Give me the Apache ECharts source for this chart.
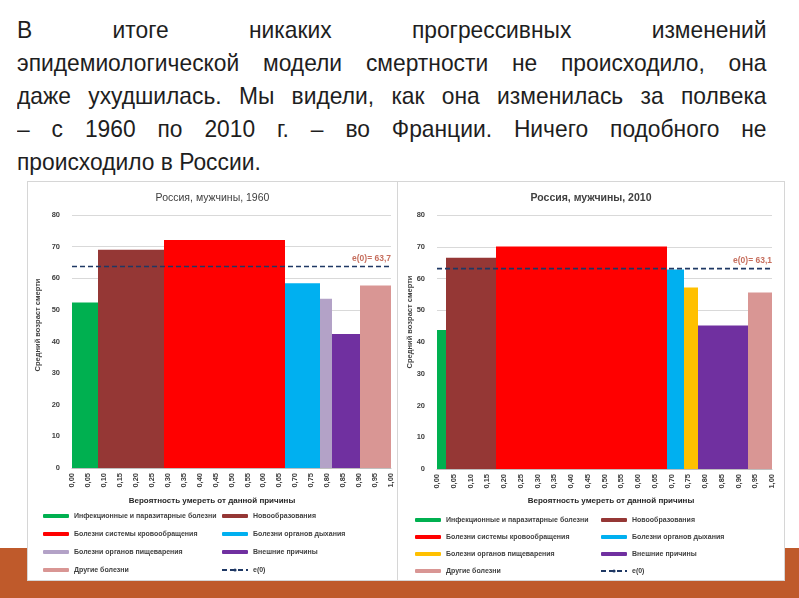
<!DOCTYPE html>
<html><head><meta charset="utf-8">
<script src="https://cdn.jsdelivr.net/npm/echarts@6/dist/echarts.min.js"></script>
<style>
html,body{margin:0;padding:0;background:#fff;width:799px;height:598px;overflow:hidden;position:relative;}
#strip{position:absolute;left:0;top:548px;width:799px;height:50px;background:#BF5A2B;}
#para{position:absolute;left:17px;top:13px;width:789px;transform:scaleX(0.95);transform-origin:0 0;font-family:"Liberation Sans",Arial,sans-serif;font-size:24px;line-height:33px;color:#1e1e1e;}
#para div{text-align:justify;text-align-last:justify;white-space:nowrap;}
#para div.last{text-align:left;text-align-last:left;}
.box{position:absolute;top:182px;height:398px;background:#fff;outline:1px solid #d6d6d6;}
#c1{left:28px;width:369px;}
#c2{left:398px;width:386px;}
</style></head>
<body>
<div id="strip"></div>
<div id="para">
<div>В итоге никаких прогрессивных изменений</div>
<div>эпидемиологической модели смертности не происходило, она</div>
<div>даже ухудшилась. Мы видели, как она изменилась за полвека</div>
<div>– с 1960 по 2010 г. – во Франции. Ничего подобного не</div>
<div class="last">происходило в России.</div>
</div>
<div id="c1" class="box"></div>
<div id="c2" class="box"></div>
<script>
// ---- data ----
const causes = [
  'Инфекционные и паразитарные болезни',
  'Новообразования',
  'Болезни системы кровообращения',
  'Болезни органов дыхания',
  'Болезни органов пищеварения',
  'Внешние причины',
  'Другие болезни'
];
const e0Name = 'e(0)';
const xTitle = 'Вероятность умереть от данной причины';
const yTitle = 'Средний возраст смерти';
// probability of dying from the cause (bar widths)
const share1960 = [0.080, 0.207, 0.381, 0.109, 0.037, 0.089, 0.097];
// mean age at death from the cause (bar heights)
const age1960 = [52.3, 69.0, 72.1, 58.4, 53.5, 42.4, 57.7];
const e0_1960 = 63.7;
const share2010 = [0.027, 0.149, 0.511, 0.049, 0.043, 0.148, 0.073];
const age2010 = [43.8, 66.5, 70.1, 62.8, 57.2, 45.2, 55.6];
const e0_2010 = 63.1;
const title1960 = 'Россия, мужчины, 1960';
const title2010 = 'Россия, мужчины, 2010';

// ---- styles ----
const colors1960 = ['#00B050', '#953735', '#FF0000', '#00B0F0', '#B3A2C7', '#7030A0', '#D99694'];
const colors2010 = ['#00B050', '#953735', '#FF0000', '#00B0F0', '#FFC000', '#7030A0', '#D99694'];
const FONT = '"Liberation Sans", Arial, sans-serif';
const txt = '#404040';
const comma = (v, d) => v.toFixed(d).replace('.', ',');

function makeOption(shares, ages, colors, e0, title, L) {
  const series = [];
  let cum = 0;
  shares.forEach((w, i) => {
    const start = cum; cum += w;
    series.push({
      type: 'custom', name: causes[i], color: colors[i],
      encode: { x: [0, 1], y: 2 },
      data: [[start, cum, ages[i]]],
      renderItem: function (params, api) {
        const p0 = api.coord([api.value(0), api.value(2)]);
        const p1 = api.coord([api.value(1), 0]);
        const x0 = Math.round(p0[0]), x1 = Math.round(p1[0]);
        return { type: 'rect', shape: { x: x0, y: p0[1], width: x1 - x0, height: p1[1] - p0[1] },
                 style: { fill: api.visual('color') } };
      }
    });
  });
  series.push({
    type: 'line', name: e0Name, symbol: 'none', color: '#1F3864',
    lineStyle: { color: '#1F3864', type: [5, 3], width: 1.6 },
    data: [[0, e0], [1, e0]], z: 5
  });
  series.push({
    type: 'scatter', name: 'e0label', symbolSize: 1,
    itemStyle: { color: 'transparent' },
    data: [[1, e0]],
    label: { show: true, position: 'top', align: 'right', distance: 3,
             formatter: 'e(0)= ' + comma(e0, 1),
             color: '#B84A35', fontSize: 8.5, fontWeight: 'bold', fontFamily: FONT },
    z: 6
  });
  const legText = { fontSize: 7, color: txt, fontWeight: 'bold', fontFamily: FONT, lineHeight: 10 };
  const legBase = { orient: 'vertical', top: L.legTop, padding: 0, itemWidth: 26, itemHeight: 4,
                    itemGap: L.legGap, selectedMode: false, textStyle: legText };
  return {
    animation: false,
    textStyle: { fontFamily: FONT },
    title: { text: title, left: 'center', top: 6,
             textStyle: { fontSize: 10.5, fontWeight: L.titleWeight, color: txt, fontFamily: FONT } },
    grid: { left: L.left, right: L.right, top: L.top, bottom: L.bottom },
    xAxis: {
      type: 'value', min: 0, max: 1, interval: 0.05,
      axisLine: { show: true, lineStyle: { color: '#BFBFBF' } },
      axisTick: { show: false },
      splitLine: { show: false },
      axisLabel: { rotate: 90, margin: 5, fontSize: 7.5, fontWeight: 'bold', color: txt,
                   formatter: v => comma(v, 2) }
    },
    yAxis: {
      type: 'value', min: 0, max: 80, interval: 10,
      axisLine: { show: false }, axisTick: { show: false },
      splitLine: { lineStyle: { color: '#D9D9D9' } },
      axisLabel: { fontSize: 7.5, fontWeight: 'bold', color: txt, margin: 12 }
    },
    legend: [
      Object.assign({}, legBase, { left: L.leg1, data: [causes[0], causes[2], causes[4], causes[6]] }),
      Object.assign({}, legBase, { left: L.leg2, data: [causes[1], causes[3], causes[5], e0Name] })
    ],
    graphic: [
      { type: 'text', x: L.yTitleX, y: L.yTitleY, rotation: Math.PI / 2,
        style: { text: yTitle, fill: txt, font: 'bold 7.5px ' + FONT,
                 align: 'center', verticalAlign: 'middle' } },
      { type: 'text', x: L.xTitleX, y: L.xTitleY,
        style: { text: xTitle, fill: '#262626', font: 'bold 8px ' + FONT,
                 align: 'center', verticalAlign: 'middle' } }
    ],
    series: series
  };
}

const ch1 = echarts.init(document.getElementById('c1'));
ch1.setOption(makeOption(share1960, age1960, colors1960, e0_1960, title1960, {
  left: 44, right: 6, top: 33, bottom: 112, titleWeight: 'normal',
  leg1: 15, leg2: 193, legTop: 329, legGap: 8,
  yTitleX: 10, yTitleY: 143, xTitleX: 184, xTitleY: 319
}));
const ch2 = echarts.init(document.getElementById('c2'));
ch2.setOption(makeOption(share2010, age2010, colors2010, e0_2010, title2010, {
  left: 39, right: 12, top: 33, bottom: 111, titleWeight: 'bold',
  leg1: 17, leg2: 202, legTop: 333, legGap: 7,
  yTitleX: 12, yTitleY: 140, xTitleX: 213, xTitleY: 319
}));
</script>
</body></html>
